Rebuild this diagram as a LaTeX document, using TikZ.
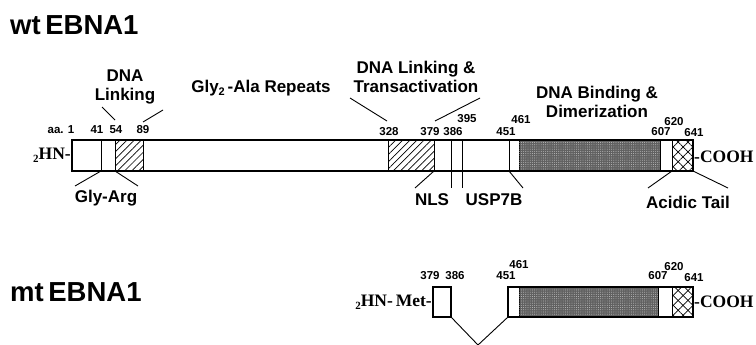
\documentclass[tikz,border=0pt]{standalone}
\usepackage{fontspec}
\setmainfont{Liberation Serif}
\setsansfont{Liberation Sans}
\usetikzlibrary{patterns.meta}
\newcommand\Seg[6]{\node[segbox,#6,minimum width={(#3-#2)*1pt},minimum height=#5pt,anchor=north west] (#1) at (#2,#4) {};}
\begin{document}
\begin{tikzpicture}[x=1pt,y=-1pt,
  lab/.style={font=\sffamily\bfseries\fontsize{17}{19.5}\selectfont,inner sep=0,align=center},
  num/.style={font=\sffamily\bfseries\fontsize{11.5}{13}\selectfont,inner sep=0},
  ttl/.style={font=\sffamily\bfseries\fontsize{27.5}{30}\selectfont,inner sep=0,anchor=west},
  term/.style={font=\rmfamily\bfseries\fontsize{17.5}{19}\selectfont,inner sep=0},
  segbox/.style={draw,line width=0.9pt,inner sep=0,outer sep=0,fill=white},
  hatch/.style={pattern={Lines[angle=45,distance=5pt,line width=0.7pt]}},
  cross/.style={pattern={Lines[angle=45,distance=7pt,line width=0.7pt]},
                postaction={pattern={Lines[angle=-45,distance=7pt,line width=0.7pt]}}},
  stip/.style={fill=black!62,postaction={pattern={Dots[distance=2.2pt,radius=0.45pt]},pattern color=white!80!black}},
  lead/.style={line width=0.9pt},
  outline/.style={line width=1.4pt}
]
\useasboundingbox (0,0) rectangle (756,345);

% ---------- titles ----------
\node[ttl] (wt) at (10,25) {wt\,EBNA1};
\node[ttl] (mt) at (10,292) {mt\,EBNA1};

% ---------- wt bar ----------
\Seg{s1}{72}{101}{140}{31}{}
\Seg{s2}{101}{115}{140}{31}{}
\Seg{s3}{115}{143}{140}{31}{hatch}
\Seg{s4}{143}{388}{140}{31}{}
\Seg{s5}{388}{434}{140}{31}{hatch}
\Seg{s6}{434}{451}{140}{31}{}
\Seg{s7}{451}{462}{140}{31}{}
\Seg{s8}{462}{509}{140}{31}{}
\Seg{s9}{509}{519}{140}{31}{}
\Seg{s10}{519}{660}{140}{31}{stip}
\Seg{s11}{660}{672}{140}{31}{}
\Seg{s12}{672}{693}{140}{31}{cross}
\draw[outline] (s1.north west) rectangle (s12.south east);

\node[term,anchor=east] (nt1) at (71,155) {{\fontsize{11}{11}\selectfont\raisebox{-3pt}{2}}HN-};
\node[term,anchor=west] (ct1) at (694,157) {-COOH};

% numbers
\node[num] (n1) at (61,130) {aa. 1};
\node[num] (n41) at (97,130) {41};
\node[num] (n54) at (116,130) {54};
\node[num] (n89) at (143,130) {89};
\node[num] (n328) at (389,132) {328};
\node[num] (n379) at (430,132) {379};
\node[num] (n386) at (453,132) {386};
\node[num] (n395) at (467,119) {395};
\node[num] (n451) at (506,132) {451};
\node[num] (n461) at (521,120) {461};
\node[num] (n607) at (661,132) {607};
\node[num] (n620) at (674,122) {620};
\node[num] (n641) at (694,133) {641};

% labels above
\node[lab] (dl) at (125,87) {DNA\\Linking};
\node[lab] (gly) at (261,88) {Gly{\fontsize{11}{11}\selectfont\raisebox{-3pt}{2}}\,-Ala Repeats};
\node[lab] (dlt) at (416,77) {DNA Linking \&\\Transactivation};
\node[lab] (dbd) at (597,102) {DNA Binding \&\\Dimerization};

\coordinate (a1) at (102,107); \coordinate (a2) at (115,120);
\coordinate (b1) at (163,110); \coordinate (b2) at (143,122);
\draw[lead] (a1) -- (a2);
\draw[lead] (b1) -- (b2);
\coordinate (c1) at (350,98); \coordinate (c2) at (387,121);
\coordinate (d1) at (480,98); \coordinate (d2) at (435,121);
\draw[lead] (c1) -- (c2);
\draw[lead] (d1) -- (d2);

% labels below
\node[lab] (ga) at (106,198) {Gly-Arg};
\node[lab] (nls) at (432,200) {NLS};
\node[lab] (usp) at (494,200) {USP7B};
\node[lab] (act) at (688,202) {Acidic Tail};

\coordinate (g1) at (75,186); \coordinate (g2) at (138,186);
\draw[lead] (s2.south west) -- (g1);
\draw[lead] (s2.south east) -- (g2);
\coordinate (nl) at (415,188);
\draw[lead] (s6.south west) -- (nl);
\coordinate (u1) at (451,188); \coordinate (u2) at (462,188);
\draw[lead] (s7.south west) -- (u1);
\draw[lead] (s7.south east) -- (u2);
\coordinate (u3) at (523,188);
\draw[lead] (s9.south west) -- (u3);
\coordinate (t1) at (648,188); \coordinate (t2) at (728,188);
\draw[lead] (s12.south west) -- (t1);
\draw[lead] (s12.south east) -- (t2);

% ---------- mt bar ----------
\Seg{m1}{433}{451}{287}{30}{}
\draw[outline] (m1.north west) rectangle (m1.south east);
\Seg{m2}{508}{519}{287}{30}{}
\Seg{m3}{519}{658}{287}{30}{stip}
\Seg{m4}{658}{672}{287}{30}{}
\Seg{m5}{672}{693}{287}{30}{cross}
\draw[outline] (m2.north west) rectangle (m5.south east);

\node[term,anchor=east] (nt2) at (432,302) {{\fontsize{11}{11}\selectfont\raisebox{-3pt}{2}}HN-\,Met-};
\node[term,anchor=west] (ct2) at (694,302) {-COOH};

\node[num] (k379) at (430,276) {379};
\node[num] (k386) at (455,276) {386};
\node[num] (k451) at (506,276) {451};
\node[num] (k461) at (519,265) {461};
\node[num] (k607) at (658,276) {607};
\node[num] (k620) at (674,267) {620};
\node[num] (k641) at (694,278) {641};

\coordinate (v) at (478,345);
\draw[lead] (m1.south east) -- (v) -- (m2.south west);
\end{tikzpicture}
\end{document}
